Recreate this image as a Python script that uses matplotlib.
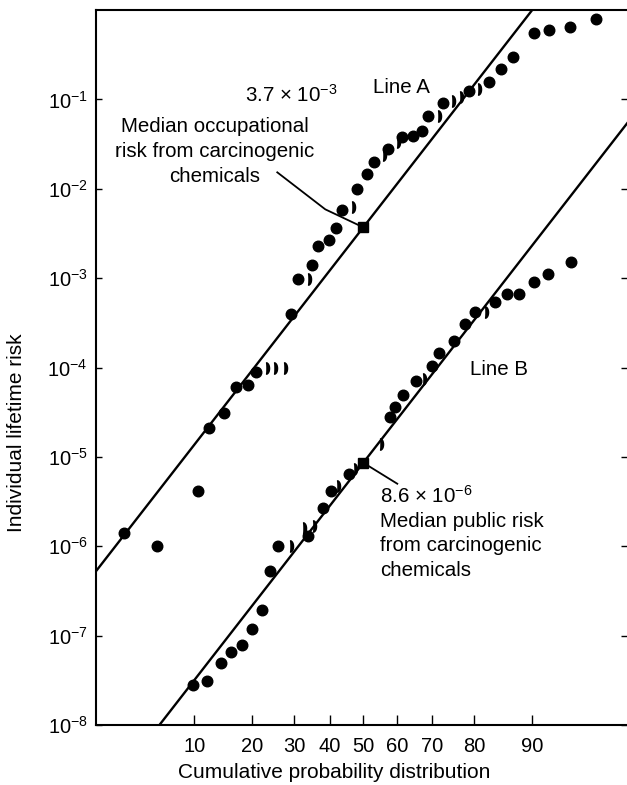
import numpy as np
import matplotlib
matplotlib.use("Agg")
import matplotlib.pyplot as plt
from matplotlib.path import Path
from matplotlib.ticker import FixedLocator, FixedFormatter, NullLocator
from statistics import NormalDist

plt.rcParams["font.family"] = ["Liberation Sans", "DejaVu Sans"]
plt.rcParams["mathtext.fontset"] = "custom"
plt.rcParams["mathtext.rm"] = "Liberation Sans"
plt.rcParams["mathtext.it"] = "Liberation Sans:italic"
plt.rcParams["mathtext.bf"] = "Liberation Sans:bold"

# ---- data -------------------------------------------------------------
# occupational risks (cumulative probability %, individual lifetime risk)
occ_pct = [3.5, 5.9, 10.5, 12.1, 14.6, 16.8, 19.1, 20.8, 29.2, 31.0, 34.9,
           36.6, 39.7, 41.8, 43.6, 48.1, 51.1, 53.2, 57.4, 61.5, 64.7, 67.2,
           68.8, 72.7, 78.8, 82.9, 85.2, 87.2, 90.2, 92.0, 94.1, 96.1]
occ_risk = [1.4e-6, 1.0e-6, 4.2e-6, 2.1e-5, 3.1e-5, 6.0e-5, 6.4e-5, 8.9e-5,
            4.0e-4, 9.7e-4, 1.4e-3, 2.3e-3, 2.7e-3, 3.6e-3, 5.8e-3, 1.0e-2,
            1.45e-2, 2.0e-2, 2.8e-2, 3.8e-2, 3.9e-2, 4.4e-2, 6.5e-2, 9.0e-2,
            0.123, 0.155, 0.22, 0.30, 0.56, 0.59, 0.65, 0.80]
# overlapping (partly hidden) occupational points
occ_pct_overlap = [23.1, 24.9, 27.4, 33.8, 46.6, 55.9, 60.1, 71.4, 74.9, 76.8, 80.8]
occ_risk_overlap = [1.0e-4, 1.0e-4, 1.0e-4, 9.7e-4, 6.2e-3, 2.4e-2, 3.3e-2,
                    6.5e-2, 9.5e-2, 0.105, 0.129]

# public risks
pub_pct = [9.9, 11.8, 14.1, 15.8, 17.9, 20.0, 22.2, 24.0, 25.9, 33.8, 38.0,
           40.3, 45.7, 58.0, 59.5, 61.8, 65.5, 69.9, 71.7, 75.4, 77.9, 80.1,
           84.1, 86.2, 88.1, 90.2, 91.9, 94.2]
pub_risk = [2.8e-8, 3.1e-8, 5.0e-8, 6.6e-8, 7.9e-8, 1.2e-7, 1.95e-7, 5.3e-7,
            1.0e-6, 1.3e-6, 2.7e-6, 4.1e-6, 6.5e-6, 2.8e-5, 3.6e-5, 4.9e-5,
            7.1e-5, 1.04e-4, 1.45e-4, 2.0e-4, 3.1e-4, 4.2e-4, 5.4e-4, 6.6e-4,
            6.6e-4, 9.0e-4, 1.1e-3, 1.5e-3]
pub_pct_overlap = [28.9, 32.4, 35.2, 42.1, 47.2, 55.0, 67.4, 82.2]
pub_risk_overlap = [1.0e-6, 1.6e-6, 1.7e-6, 4.7e-6, 7.3e-6, 1.4e-5, 7.5e-5, 4.2e-4]

# lognormal fit lines: median risk and decades per standard deviation
median_A = 3.7e-3
median_B = 8.6e-6
decades_per_sd_A = 1.9
decades_per_sd_B = 1.9

x_ticks = [10, 20, 30, 40, 50, 60, 70, 80, 90]
y_ticks = [1e-8, 1e-7, 1e-6, 1e-5, 1e-4, 1e-3, 1e-2, 1e-1]
y_tick_labels = [r"10$^{-8}$", r"10$^{-7}$", r"10$^{-6}$", r"10$^{-5}$",
                 r"10$^{-4}$", r"10$^{-3}$", r"10$^{-2}$", r"10$^{-1}$"]

# ---- normal-probability x scale ---------------------------------------
_nd = NormalDist()
_ppf = np.vectorize(
    lambda q: _nd.inv_cdf(min(max(q, 1e-12), 1 - 1e-12)) if q == q else np.nan,
    otypes=[float])
_cdf = np.vectorize(lambda z: 100.0 * _nd.cdf(z) if z == z else np.nan,
                    otypes=[float])


def prob_forward(p):
    return _ppf(np.asarray(p, dtype=float) / 100.0)


def prob_inverse(z):
    return _cdf(np.asarray(z, dtype=float))


# ---- figure -----------------------------------------------------------
W, H, DPI = 627, 785, 100
fig = plt.figure(figsize=(W / DPI, H / DPI), dpi=DPI)
ax = fig.add_axes([96 / W, 60 / H, 531 / W, 715 / H])
ax.set_xscale("function", functions=(prob_forward, prob_inverse))
ax.set_yscale("log")
ax.set_xlim(100 * _nd.cdf(-2.025), 100 * _nd.cdf(1.998))
ax.set_ylim(1e-8, 1e0)

# fitted lines
z = np.linspace(-2.3, 2.3, 300)
line_p = 100 * np.array([_nd.cdf(v) for v in z])
ax.plot(line_p, median_A * 10 ** (decades_per_sd_A * z), color="black", lw=1.7)
ax.plot(line_p, median_B * 10 ** (decades_per_sd_B * z), color="black", lw=1.7)

# crescent marker for overlapping points
t = np.linspace(-np.pi / 2, np.pi / 2, 30)
verts = list(zip(0.55 * np.cos(t), np.sin(t))) + \
    list(zip(0.08 * np.cos(t[::-1]), np.sin(t[::-1])))
verts.append(verts[0])
codes = [Path.MOVETO] + [Path.LINETO] * (len(verts) - 2) + [Path.CLOSEPOLY]
crescent = Path(verts, codes)

dot_kw = dict(ls="none", marker="o", ms=7.6, color="black", mec="black")
ax.plot(occ_pct, occ_risk, **dot_kw)
ax.plot(pub_pct, pub_risk, **dot_kw)
ax.plot(occ_pct_overlap, occ_risk_overlap, ls="none", marker=crescent, ms=8,
        color="black")
ax.plot(pub_pct_overlap, pub_risk_overlap, ls="none", marker=crescent, ms=8,
        color="black")

# median markers
ax.plot([50, 50], [median_A, median_B], ls="none", marker="s", ms=7,
        color="black")

# axes styling
for side in ("top", "left", "bottom"):
    ax.spines[side].set_linewidth(1.5)
ax.spines["right"].set_visible(False)

ax.xaxis.set_major_locator(FixedLocator(x_ticks))
ax.xaxis.set_major_formatter(FixedFormatter([str(v) for v in x_ticks]))
ax.xaxis.set_minor_locator(NullLocator())
ax.yaxis.set_major_locator(FixedLocator(y_ticks))
ax.yaxis.set_major_formatter(FixedFormatter(y_tick_labels))
ax.yaxis.set_minor_locator(NullLocator())
ax.tick_params(axis="x", direction="in", length=7, width=1.0, pad=9,
               labelsize=14.5, top=False)
ax.tick_params(axis="y", direction="in", length=4, width=1.0, pad=6,
               labelsize=14.5, right=True)


def fx(px):
    return px / W


def fy(py):
    return 1 - py / H


fig.text(fx(17), fy(433), "Individual lifetime risk", rotation=90,
         ha="center", va="center", fontsize=15)
fig.text(fx(334), fy(773), "Cumulative probability distribution",
         ha="center", va="center", fontsize=15)

fs = 14.8
fig.text(fx(245), fy(102), "3.7 × 10$^{-3}$", ha="left", va="baseline", fontsize=fs)
for line, base in zip(["Median occupational", "risk from carcinogenic",
                       "chemicals"], [132, 157, 182]):
    fig.text(fx(215), fy(base), line, ha="center", va="baseline", fontsize=fs)
fig.text(fx(373), fy(93), "Line A", ha="left", va="baseline", fontsize=fs)
fig.text(fx(470), fy(375), "Line B", ha="left", va="baseline", fontsize=fs)
fig.text(fx(380), fy(503), "8.6 × 10$^{-6}$", ha="left", va="baseline", fontsize=fs)
for line, base in zip(["Median public risk", "from carcinogenic", "chemicals"],
                      [527, 551, 576]):
    fig.text(fx(380), fy(base), line, ha="left", va="baseline", fontsize=fs)

# leader lines: offsets in pixels from the median markers
def leader(median, offsets):
    mx, my = ax.transData.transform((50, median))
    pts = [(mx + dx, my + dy) for dx, dy in offsets]
    data = ax.transData.inverted().transform(pts)
    ax.plot(data[:, 0], data[:, 1], color="black", lw=1.3)


leader(median_A, [(-86, 55), (-38, 18), (0, 0)])
leader(median_B, [(0, 0), (34, -21)])

fig.savefig("out.png", dpi=DPI)
